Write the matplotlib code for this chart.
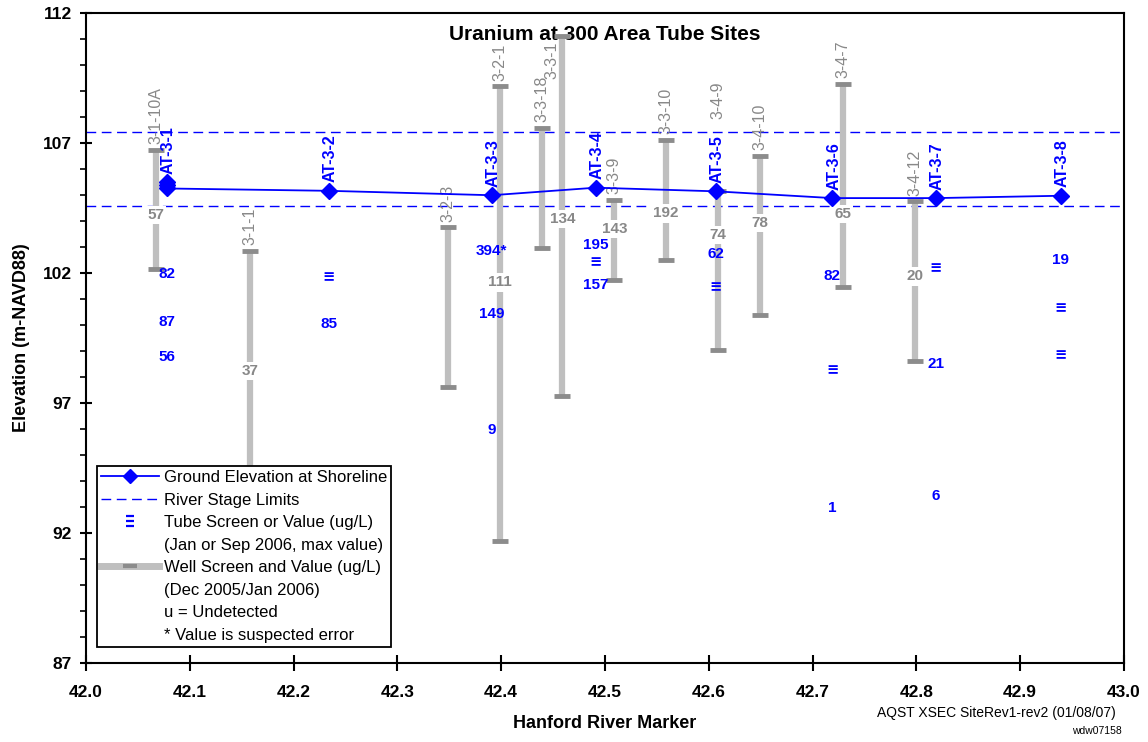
import numpy as np
import matplotlib
matplotlib.use("Agg")
import matplotlib.pyplot as plt
from matplotlib.lines import Line2D
from matplotlib.path import Path
from matplotlib.ticker import FormatStrFormatter

plt.rcParams['font.family'] = ['Liberation Sans', 'DejaVu Sans']

# ground elevation at shoreline (tube sites)
tube_names = ['AT-3-1', 'AT-3-2', 'AT-3-3', 'AT-3-4', 'AT-3-5', 'AT-3-6', 'AT-3-7', 'AT-3-8']
tube_x = [42.078, 42.234, 42.391, 42.491, 42.607, 42.719, 42.819, 42.939]
ground_y = [105.24, 105.15, 104.98, 105.27, 105.13, 104.87, 104.87, 104.96]
at31_extra_y = [105.47, 105.36]

river_stage = [107.42, 104.58]

# wells
well_names = ['3-1-10A', '3-1-1', '3-2-3', '3-2-1', '3-3-18', '3-3-1',
              '3-3-9', '3-3-10', '3-4-9', '3-4-10', '3-4-7', '3-4-12']
well_x = [42.067, 42.158, 42.349, 42.399, 42.439, 42.459,
          42.509, 42.559, 42.609, 42.649, 42.729, 42.799]
well_top = [106.73, 102.85, 103.74, 109.17, 107.58, 111.10,
            104.80, 107.12, 105.13, 106.50, 109.26, 104.74]
well_bottom = [102.13, 93.00, 97.59, 91.68, 102.95, 97.26,
               101.71, 102.50, 99.03, 100.38, 101.46, 98.62]
well_value = ['57', '37', '', '111', '', '134', '143', '192', '74', '78', '65', '20']
well_value_y = [104.23, 98.23, np.nan, 101.63, np.nan, 104.08,
                103.67, 104.28, 103.46, 103.90, 104.26, 101.86]

# tube values: index of tube site, elevation, text ('≡' = screen, no value)
tube_val_idx = [0, 0, 0, 1, 1, 2, 2, 2, 3, 3, 3, 4, 4, 5, 5, 5, 6, 6, 6, 7, 7, 7]
tube_val_y = [101.97, 100.09, 98.77, 101.86, 100.03, 102.82, 100.42, 95.96,
              103.08, 102.42, 101.54, 102.72, 101.46, 101.88, 98.26, 92.97,
              102.20, 98.51, 93.42, 102.50, 100.64, 98.87]
tube_val_text = ['82', '87', '56', '≡', '85', '394*', '149', '9',
                 '195', '≡', '157', '62', '≡', '82', '≡', '1',
                 '≡', '21', '6', '19', '≡', '≡']

y_ticks = [87, 92, 97, 102, 107, 112]

blue = '#0000FF'
bar_gray = '#BFBFBF'
cap_gray = '#8C8C8C'
text_gray = '#888888'
dash = (0, (7, 4))

fig = plt.figure(figsize=(11.48, 7.42), dpi=100)
ax = fig.add_axes([0.0749, 0.1065, 0.9041, 0.8765])

for y in river_stage:
    ax.axhline(y, color=blue, lw=1.0, ls=dash, zorder=1)

# well screens
label_override = {'3-4-9': (42.609, 107.92), '3-3-1': (42.449, 109.46)}
for i, name in enumerate(well_names):
    x = well_x[i]
    ax.plot([x, x], [well_bottom[i], well_top[i]], color=bar_gray, lw=4.5,
            solid_capstyle='butt', zorder=2)
    ax.plot([x, x], [well_bottom[i], well_top[i]], ls='none', marker='_',
            ms=11, mew=3.5, color=cap_gray, zorder=3)
    if name in label_override:
        lx, ly = label_override[name]
        ax.text(lx, ly, name, rotation=90, ha='center', va='bottom',
                color=text_gray, fontsize=11.5, zorder=4)
    else:
        ax.annotate(name, (x, well_top[i]), xytext=(0, 4), textcoords='offset points',
                    rotation=90, ha='center', va='bottom', color=text_gray,
                    fontsize=11.5, zorder=4)
    if well_value[i]:
        ax.text(x, well_value_y[i], well_value[i], ha='center', va='center',
                color=text_gray, fontsize=11, fontweight='bold', zorder=4,
                bbox=dict(facecolor='white', edgecolor='none', pad=1.5))

# ground elevation line
ax.plot(tube_x, ground_y, color=blue, lw=1.3, marker='D', ms=8, zorder=5)
ax.plot([tube_x[0]] * len(at31_extra_y), at31_extra_y, ls='none', marker='D',
        ms=8, color=blue, zorder=5)

for i, name in enumerate(tube_names):
    ytop = ground_y[i]
    if i == 0:
        ytop = max(at31_extra_y)
    ax.annotate(name, (tube_x[i], ytop), xytext=(1, 6), textcoords='offset points',
                rotation=90, ha='center', va='bottom', color=blue,
                fontsize=11.5, fontweight='bold', zorder=6)

for idx, y, t in zip(tube_val_idx, tube_val_y, tube_val_text):
    if t == '≡':
        ax.text(tube_x[idx], y, t, ha='center', va='center', color=blue,
                fontsize=10.5, fontweight='bold', family='DejaVu Sans', zorder=6)
    else:
        ax.text(tube_x[idx], y, t, ha='center', va='center', color=blue,
                fontsize=11, fontweight='bold', zorder=6)

ax.set_xlim(42.0, 43.0)
ax.set_ylim(87, 112)
ax.set_xticks(np.round(np.arange(42.0, 43.01, 0.1), 1))
ax.xaxis.set_major_formatter(FormatStrFormatter('%.1f'))
ax.set_yticks(y_ticks)
ax.set_yticks(np.arange(87, 113, 1), minor=True)
ax.tick_params(axis='x', which='major', direction='inout', length=11, width=1.5,
               labelsize=12.5, pad=10)
ax.tick_params(axis='y', which='major', direction='inout', length=8, width=1.5,
               labelsize=12.5, pad=6)
ax.tick_params(axis='y', which='minor', direction='out', length=4.5, width=1.2)
for lab in ax.get_xticklabels() + ax.get_yticklabels():
    lab.set_fontweight('bold')
for sp in ax.spines.values():
    sp.set_linewidth(1.5)

ax.set_xlabel('Hanford River Marker', fontsize=13, fontweight='bold', labelpad=11)
ax.set_ylabel('Elevation (m-NAVD88)', fontsize=13, fontweight='bold', labelpad=9)
ax.text(0.5, 0.966, 'Uranium at 300 Area Tube Sites', transform=ax.transAxes,
        ha='center', va='center', fontsize=15, fontweight='bold', zorder=1)

triple = Path([(-0.5, 0.6), (0.5, 0.6), (-0.5, 0.0), (0.5, 0.0), (-0.5, -0.6), (0.5, -0.6)],
              [Path.MOVETO, Path.LINETO] * 3)
empty = Line2D([], [], ls='none')
handles = [
    Line2D([], [], color=blue, lw=1.3, marker='D', ms=7),
    Line2D([], [], color=blue, lw=1.0, ls=dash),
    Line2D([], [], ls='none', marker=triple, ms=7, mew=1.6, mfc='none', color=blue),
    empty,
    Line2D([], [], color=bar_gray, lw=5, marker='_', ms=10, mew=3, mec=cap_gray),
    empty, empty, empty,
]
labels = ['Ground Elevation at Shoreline', 'River Stage Limits',
          'Tube Screen or Value (ug/L)', '(Jan or Sep 2006, max value)',
          'Well Screen and Value (ug/L)', '(Dec 2005/Jan 2006)',
          'u = Undetected', '* Value is suspected error']
leg = ax.legend(handles, labels, loc='lower left', bbox_to_anchor=(0.0106, 0.0246),
                borderaxespad=0, fontsize=12, frameon=True, fancybox=False,
                framealpha=1, edgecolor='black', handlelength=3.5,
                handletextpad=0.25, labelspacing=0.45, borderpad=0.25)
leg.get_frame().set_linewidth(1.3)
leg.set_zorder(10)

fig.text(0.9715, 0.039, 'AQST XSEC SiteRev1-rev2 (01/08/07)', ha='right',
         va='center', fontsize=10)
fig.text(0.977, 0.015, 'wdw07158', ha='right', va='center', fontsize=7.5)

fig.savefig('out.png', dpi=100)
